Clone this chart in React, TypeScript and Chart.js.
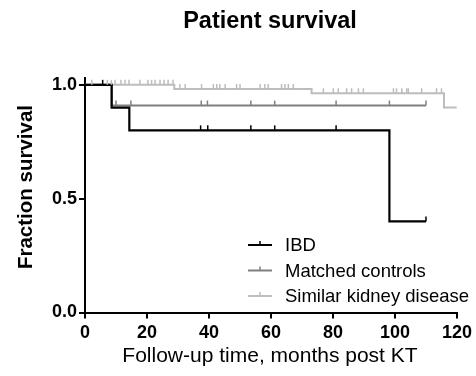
import React, { useEffect, useRef } from "react";
import { Chart, registerables } from "chart.js";

Chart.register(...registerables);

const chartTitle = "Patient survival";
const xAxisTitle = "Follow-up time, months post KT";
const yAxisTitle = "Fraction survival";
const xTicks = [0, 20, 40, 60, 80, 100, 120];
const yTicks = [0, 0.5, 1.0];

const seriesNames = ["IBD", "Matched controls", "Similar kidney disease"];
const seriesColors = ["#000000", "#7f7f7f", "#bdbdbd"];

const ibdTimes = [0, 8.6, 14.3, 98.2, 110];
const ibdSurvival = [1, 0.9, 0.8, 0.4, 0.4];
const ibdCensored = [5.7, 37.3, 39.6, 53.5, 61.2, 81, 110];

const matchedTimes = [0, 8.6, 110];
const matchedSurvival = [1, 0.909, 0.909];
const matchedCensored = [10, 14.8, 37.5, 39.5, 53.5, 61.2, 81, 98.2, 110];

const similarTimes = [0, 28.8, 73.1, 115.8, 119.9];
const similarSurvival = [1, 0.982, 0.963, 0.9, 0.9];
const similarCensored = [
  2.2, 7.2, 8.5, 9.7, 11.6, 12.9, 14.2, 17.7, 20.3, 21.5, 22.6, 24.2, 25.5,
  26.8, 28.4, 30.6, 32.3, 37.6, 41.4, 42.5, 43.5, 45.2, 48.9, 50, 56.5, 58,
  59.1, 63.4, 64.5, 65.6, 67.2, 76.9, 80.1, 81.7, 84.4, 86, 88.2, 89.8, 99.5,
  100.5, 102.2, 103.8, 104.3, 108.6, 113.4, 115,
];

const allTimes = [ibdTimes, matchedTimes, similarTimes];
const allSurvival = [ibdSurvival, matchedSurvival, similarSurvival];
const allCensored = [ibdCensored, matchedCensored, similarCensored];

const FONT = "'Liberation Sans', Arial, sans-serif";

function survivalAt(times: number[], surv: number[], t: number) {
  let s = surv[0];
  for (let i = 0; i < times.length; i++) {
    if (times[i] <= t) s = surv[i];
  }
  return s;
}

const censorPlugin = {
  id: "censorTicks",
  afterDatasetsDraw(chart: any) {
    const { ctx } = chart;
    const xs = chart.scales.x;
    const ys = chart.scales.y;
    ctx.save();
    for (let k = allTimes.length - 1; k >= 0; k--) {
      ctx.strokeStyle = seriesColors[k];
      ctx.lineWidth = 1.5;
      for (const t of allCensored[k]) {
        const s = survivalAt(allTimes[k], allSurvival[k], t);
        const px = xs.getPixelForValue(t);
        const py = ys.getPixelForValue(s);
        ctx.beginPath();
        ctx.moveTo(px, py);
        ctx.lineTo(px, py - 5);
        ctx.stroke();
      }
    }
    ctx.restore();
  },
};

const textPlugin = {
  id: "texts",
  afterDraw(chart: any) {
    const { ctx, chartArea } = chart;
    ctx.save();
    ctx.fillStyle = "#000";
    ctx.textAlign = "center";
    ctx.textBaseline = "middle";
    ctx.font = `bold 23.5px ${FONT}`;
    ctx.fillText(chartTitle, (chartArea.left + chartArea.right) / 2 - 1, 22);
    ctx.font = `21px ${FONT}`;
    ctx.fillText(xAxisTitle, (chartArea.left + chartArea.right) / 2 - 1, 356);
    ctx.save();
    ctx.translate(26, 187);
    ctx.rotate(-Math.PI / 2);
    ctx.font = `bold 20.5px ${FONT}`;
    ctx.fillText(yAxisTitle, 0, 0);
    ctx.restore();

    // legend
    const lx0 = 248;
    const lx1 = 272;
    const rows = [245, 270.5, 296];
    ctx.textAlign = "left";
    ctx.font = `18.5px ${FONT}`;
    for (let k = 0; k < seriesNames.length; k++) {
      const y = rows[k];
      ctx.strokeStyle = seriesColors[k];
      ctx.lineWidth = 2;
      ctx.beginPath();
      ctx.moveTo(lx0, y);
      ctx.lineTo(lx1, y);
      ctx.stroke();
      ctx.lineWidth = 1.5;
      ctx.beginPath();
      ctx.moveTo((lx0 + lx1) / 2, y);
      ctx.lineTo((lx0 + lx1) / 2, y - 4);
      ctx.stroke();
      ctx.fillStyle = "#000";
      ctx.fillText(seriesNames[k], 285, y + 1);
    }
    ctx.restore();
  },
};

export default function App() {
  const ref = useRef<HTMLCanvasElement | null>(null);
  useEffect(() => {
    document.body.style.margin = "0";
    const canvas = ref.current!;
    const datasets = allTimes.map((times, k) => ({
      label: seriesNames[k],
      data: times.map((t, i) => ({ x: t, y: allSurvival[k][i] })),
      borderColor: seriesColors[k],
      backgroundColor: seriesColors[k],
      borderWidth: k === 0 ? 2.2 : 2,
      stepped: "before" as const,
      pointRadius: 0,
      fill: false,
    }));
    const chart = new Chart(canvas, {
      type: "line",
      data: { datasets },
      options: {
        responsive: false,
        animation: false,
        layout: { padding: { top: 78, right: 18, left: 0, bottom: 0 } },
        plugins: {
          legend: { display: false },
          title: { display: false },
          tooltip: { enabled: false },
        },
        scales: {
          x: {
            type: "linear",
            min: 0,
            max: 120,
            afterBuildTicks: (s: any) => {
              s.ticks = xTicks.map((v) => ({ value: v }));
            },
            afterFit: (s: any) => {
              s.height = 63.5;
            },
            grid: {
              drawOnChartArea: false,
              drawTicks: true,
              tickLength: 6,
              lineWidth: 2,
              color: "#000",
            },
            border: { display: true, width: 2, color: "#000" },
            ticks: {
              color: "#000",
              font: { family: FONT, size: 18, weight: "bold" },
              padding: 4,
              maxRotation: 0,
            },
          },
          y: {
            type: "linear",
            min: 0,
            max: 1.03,
            afterBuildTicks: (s: any) => {
              s.ticks = yTicks.map((v) => ({ value: v }));
            },
            afterFit: (s: any) => {
              s.width = 85;
            },
            grid: {
              drawOnChartArea: false,
              drawTicks: true,
              tickLength: 6,
              lineWidth: 2,
              color: "#000",
            },
            border: { display: true, width: 2, color: "#000" },
            ticks: {
              color: "#000",
              font: { family: FONT, size: 18, weight: "bold" },
              padding: 2,
              callback: (v: any) => Number(v).toFixed(1),
            },
          },
        },
      },
      plugins: [censorPlugin, textPlugin],
    });
    return () => chart.destroy();
  }, []);
  return <canvas ref={ref} width={476} height={376} style={{ display: "block" }} />;
}
